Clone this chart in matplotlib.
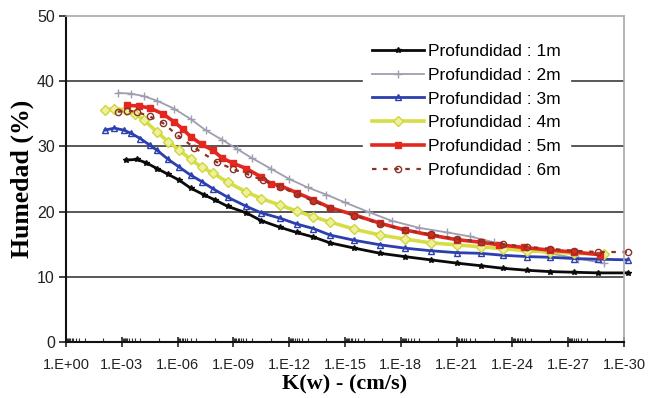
import numpy as np
import matplotlib
matplotlib.use("Agg")
import matplotlib.pyplot as plt
from matplotlib.ticker import FixedLocator, FuncFormatter

# Each series: decades below 1 cm/s (K = 10**-d) and moisture content (%)
d_1m = [3.2, 3.8, 4.3, 4.9, 5.5, 6.1, 6.7, 7.4, 8.0, 8.7, 9.7, 10.5, 11.5, 12.4,
        13.3, 14.2, 15.5, 16.9, 18.2, 19.6, 21.0, 22.3, 23.5, 24.8, 26.0, 27.3,
        28.6, 30.2]
h_1m = [27.9, 28.0, 27.5, 26.6, 25.7, 24.8, 23.6, 22.6, 21.8, 20.8, 19.8, 18.6,
        17.6, 16.8, 16.1, 15.2, 14.4, 13.6, 13.1, 12.6, 12.1, 11.7, 11.3, 11.0,
        10.8, 10.7, 10.6, 10.6]

d_2m = [2.8, 3.5, 4.2, 4.9, 5.8, 6.7, 7.5, 8.4, 9.2, 10.0, 11.0, 12.0, 13.0,
        14.0, 15.0, 16.3, 17.5, 19.0, 20.5, 21.7, 23.0, 24.5, 26.0, 27.5, 28.9]
h_2m = [38.2, 38.1, 37.7, 37.0, 35.8, 34.2, 32.5, 31.0, 29.6, 28.2, 26.6, 25.0,
        23.7, 22.6, 21.4, 19.9, 18.6, 17.5, 16.8, 16.2, 15.3, 14.4, 13.6, 12.8,
        12.1]

d_3m = [2.1, 2.6, 3.1, 3.5, 4.0, 4.5, 4.9, 5.5, 6.1, 6.7, 7.3, 7.9, 8.7, 9.7,
        10.5, 11.5, 12.4, 13.3, 14.2, 15.5, 16.9, 18.2, 19.6, 21.0, 22.3, 23.5,
        24.8, 26.0, 27.3, 28.6, 30.2]
h_3m = [32.5, 32.8, 32.5, 32.0, 31.2, 30.2, 29.4, 28.0, 26.8, 25.6, 24.6, 23.5,
        22.2, 20.8, 19.8, 19.0, 18.1, 17.4, 16.4, 15.6, 14.9, 14.4, 14.0, 13.7,
        13.6, 13.3, 13.1, 13.0, 12.8, 12.7, 12.6]

d_4m = [2.1, 2.6, 3.2, 3.7, 4.2, 4.9, 5.5, 6.1, 6.7, 7.3, 7.9, 8.7, 9.7, 10.5,
        11.5, 12.4, 13.3, 14.2, 15.5, 16.9, 18.2, 19.6, 21.0, 22.3, 23.5, 24.8,
        26.0, 27.3, 28.9]
h_4m = [35.6, 35.8, 35.6, 35.0, 34.0, 32.2, 30.7, 29.4, 28.0, 26.8, 25.9, 24.5,
        23.0, 22.0, 21.0, 20.1, 19.2, 18.4, 17.3, 16.4, 15.8, 15.2, 14.9, 14.6,
        14.3, 14.0, 13.8, 13.6, 13.5]

d_5m = [3.3, 3.9, 4.5, 5.2, 5.8, 6.3, 6.7, 7.3, 7.9, 8.4, 9.0, 9.7, 10.5, 11.0,
        11.5, 12.4, 13.3, 14.2, 15.5, 16.9, 18.2, 19.6, 21.0, 22.3, 23.3, 24.6,
        26.0, 27.3, 28.7]
h_5m = [36.3, 36.2, 35.9, 35.0, 33.8, 32.6, 31.5, 30.3, 29.4, 28.2, 27.4, 26.6,
        25.3, 24.3, 24.0, 22.9, 21.8, 20.6, 19.5, 18.2, 17.2, 16.4, 15.7, 15.3,
        14.9, 14.5, 14.1, 13.8, 13.4]

d_6m = [2.8, 3.3, 3.8, 4.5, 5.2, 6.0, 6.9, 8.1, 9.0, 9.8, 10.6, 11.5, 12.4, 13.3,
        14.2, 15.5, 16.9, 18.2, 19.6, 21.0, 22.3, 23.5, 24.8, 26.0, 27.3, 28.6,
        30.2]
h_6m = [35.3, 35.5, 35.3, 34.6, 33.6, 31.7, 29.8, 27.6, 26.5, 25.7, 24.8, 23.8,
        22.7, 21.6, 20.5, 19.4, 18.1, 17.2, 16.5, 15.8, 15.4, 15.0, 14.6, 14.3,
        14.0, 13.8, 13.8]

labels = ["Profundidad : 1m", "Profundidad : 2m", "Profundidad : 3m",
          "Profundidad : 4m", "Profundidad : 5m", "Profundidad : 6m"]
major_exp = list(range(0, -31, -3))

fig = plt.figure(figsize=(6.58, 3.98), dpi=100)
ax = fig.add_axes([66 / 658, 1 - 342 / 398, (624 - 66) / 658, (342 - 16) / 398])
ax.set_xscale("log")
ax.set_xlim(1, 1e-30)
ax.set_ylim(0, 50)

styles = [
    dict(color="#0a0a0a", lw=2.0, marker="*", ms=4, mfc="#0a0a0a", mec="#0a0a0a"),
    dict(color="#9e9eb0", lw=1.3, marker="+", ms=6, mew=1.0),
    dict(color="#2c3fae", lw=2.0, marker="^", ms=5, mfc="none", mew=1.0),
    dict(color="#d6de44", lw=2.6, marker="D", ms=5, mfc="#eef09a", mec="#cfd640"),
    dict(color="#e3261e", lw=2.6, marker="s", ms=4.5, mfc="#e3261e"),
    dict(color="#8a3226", lw=1.6, ls=(0, (2, 3)), marker="o", ms=4.5, mfc="none", mew=1.0),
]
series = [(d_1m, h_1m), (d_2m, h_2m), (d_3m, h_3m), (d_4m, h_4m), (d_5m, h_5m), (d_6m, h_6m)]
for (d, h), st, lab in zip(series, styles, labels):
    ax.plot(10.0 ** (-np.asarray(d)), h, label=lab, clip_on=False, **st)

# grid and frame
for yv in (10, 20, 30, 40):
    ax.axhline(yv, color="#4a4a4a", lw=1.3, zorder=0.5)
ax.spines["left"].set_color("#111111")
ax.spines["left"].set_linewidth(1.5)
ax.spines["bottom"].set_color("#111111")
ax.spines["bottom"].set_linewidth(1.5)
for s in ("top", "right"):
    ax.spines[s].set_color("#a8a8a8")
    ax.spines[s].set_linewidth(1.2)

# ticks
ax.xaxis.set_major_locator(FixedLocator([10.0 ** e for e in major_exp]))
ax.xaxis.set_major_formatter(FuncFormatter(lambda v, p: "1.E%+03d" % round(np.log10(v))))
minor = []
for e in major_exp[:-1]:
    minor += [m * 10.0 ** (e - 1) for m in range(2, 10)]
    minor += [10.0 ** (e - 1), 10.0 ** (e - 2)]
ax.xaxis.set_minor_locator(FixedLocator(minor))
ax.xaxis.set_minor_formatter(FuncFormatter(lambda v, p: ""))
ax.set_yticks([0, 10, 20, 30, 40, 50])
ax.tick_params(axis="x", which="major", direction="inout", length=7, width=1.2,
               color="#222222", labelsize=10.5, labelcolor="#222222", pad=8)
ax.tick_params(axis="x", which="minor", direction="in", length=3, width=0.8, color="#333333")
ax.tick_params(axis="y", which="major", direction="out", length=5, width=1.2,
               color="#222222", labelsize=11.5, labelcolor="#222222", pad=3)
for t in ax.get_xticklabels() + ax.get_yticklabels():
    t.set_fontfamily("Liberation Sans")

ax.set_xlabel("K(w) - (cm/s)", fontfamily="Liberation Serif", fontweight="bold",
              fontsize=16, labelpad=2)
ax.set_ylabel("Humedad (%)", fontfamily="Liberation Serif", fontweight="bold",
              fontsize=18.5, labelpad=2)

leg = ax.legend(loc="upper left", bbox_to_anchor=(363 / 658, 1 - 35 / 398),
                bbox_transform=fig.transFigure, borderaxespad=0, frameon=True,
                fancybox=False, facecolor="white", edgecolor="white", framealpha=1,
                prop=dict(family="Liberation Sans", size=12.5), labelspacing=0.5,
                handlelength=3.0, handletextpad=0.25, borderpad=0.5)
leg.set_zorder(5)

fig.savefig("out.png", dpi=100, facecolor="white")
